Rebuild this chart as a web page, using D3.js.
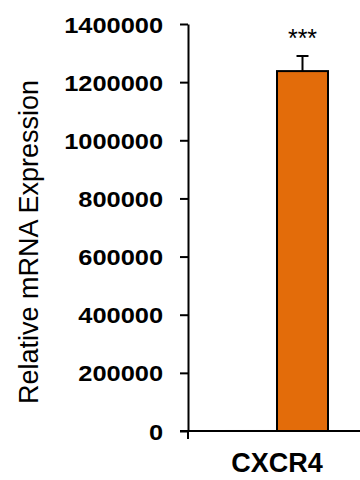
<!DOCTYPE html>
<html>
<head>
<meta charset="utf-8">
<script src="https://cdn.jsdelivr.net/npm/d3@7"></script>
<style>
  body { margin: 0; background: #fff; }
  svg { display: block; font-family: "Liberation Sans", Arial, sans-serif; }
</style>
</head>
<body>
<svg id="chart"></svg>
<script>
// Data
const categories = ["CXCR4"];
const groups = ["Control", "CXCR4"];
const means = [1, 1238000];
const errors = [0, 52000];
const stars = ["", "***"];
const tickValues = [0, 200000, 400000, 600000, 800000, 1000000, 1200000, 1400000];
const barColors = ["#ffffff", "#E36C0A"];

const svg = d3.select("#chart")
  .attr("width", 360)
  .attr("height", 480);

// Scales
const y = d3.scaleLinear()
  .domain([0, 1400000])
  .range([431, 24]);

const x = d3.scaleBand()
  .domain(categories)
  .range([188, 366]);

const xInner = d3.scaleBand()
  .domain(groups)
  .range([-51, 51]);

// Y axis
const yAxis = d3.axisLeft(y)
  .tickValues(tickValues)
  .tickFormat(d3.format("d"))
  .tickSize(8)
  .tickPadding(14)
  .tickSizeOuter(0);

const gy = svg.append("g")
  .attr("transform", "translate(188,0)")
  .call(yAxis);

gy.select(".domain").attr("stroke", "#000").attr("stroke-width", 2);
gy.selectAll(".tick line").attr("stroke", "#000").attr("stroke-width", 2);
gy.selectAll(".tick text")
  .attr("fill", "#000")
  .attr("font-size", "22.5px")
  .attr("font-weight", "bold")
  .attr("font-family", "'Liberation Sans', Arial, sans-serif")
  .attr("dy", "0.36em")
  .attr("transform", "scale(1.13,1)");

// X axis
const xAxis = d3.axisBottom(x)
  .tickValues([])
  .tickSizeOuter(8);

const gx = svg.append("g")
  .attr("transform", `translate(0,${y(0)})`)
  .call(xAxis);

const [x0, x1] = x.range();
gx.select(".domain").attr("stroke", "#000").attr("stroke-width", 2)
  .attr("d", `M${x0 - 8},0H${x0}V8V0H${x1}`);

// Bars
const bars = svg.append("g");

bars.selectAll("rect")
  .data(groups)
  .join("rect")
  .attr("x", (d, i) => x(categories[0]) + x.bandwidth() / 2 + xInner(d))
  .attr("y", (d, i) => y(means[i]))
  .attr("width", xInner.bandwidth())
  .attr("height", (d, i) => y(0) - y(means[i]))
  .attr("fill", (d, i) => barColors[i])
  .attr("stroke", "#000")
  .attr("stroke-width", 2);

// Error bars (upper only)
const errG = svg.append("g").attr("stroke", "#000").attr("stroke-width", 2);
groups.forEach((g, i) => {
  if (!errors[i]) return;
  const cx = x(categories[0]) + x.bandwidth() / 2 + xInner(g) + xInner.bandwidth() / 2;
  errG.append("line")
    .attr("x1", cx).attr("x2", cx)
    .attr("y1", y(means[i])).attr("y2", y(means[i] + errors[i]));
  errG.append("line")
    .attr("x1", cx - 6).attr("x2", cx + 6)
    .attr("y1", y(means[i] + errors[i])).attr("y2", y(means[i] + errors[i]));
});

// Significance stars
svg.selectAll(".star")
  .data(groups)
  .join("text")
  .attr("class", "star")
  .attr("x", d => x(categories[0]) + x.bandwidth() / 2 + xInner(d) + xInner.bandwidth() / 2)
  .attr("y", 47)
  .attr("text-anchor", "middle")
  .attr("font-size", "25px")
  .attr("fill", "#000")
  .text((d, i) => stars[i]);

// Category label
svg.append("text")
  .attr("x", x(categories[0]) + x.bandwidth() / 2)
  .attr("y", 472)
  .attr("text-anchor", "middle")
  .attr("font-size", "27px")
  .attr("font-weight", "bold")
  .attr("fill", "#000")
  .text(categories[0]);

// Y axis title
svg.append("text")
  .attr("transform", "translate(38,242) rotate(-90)")
  .attr("text-anchor", "middle")
  .attr("font-size", "27px")
  .attr("fill", "#000")
  .text("Relative mRNA Expression");
</script>
</body>
</html>
